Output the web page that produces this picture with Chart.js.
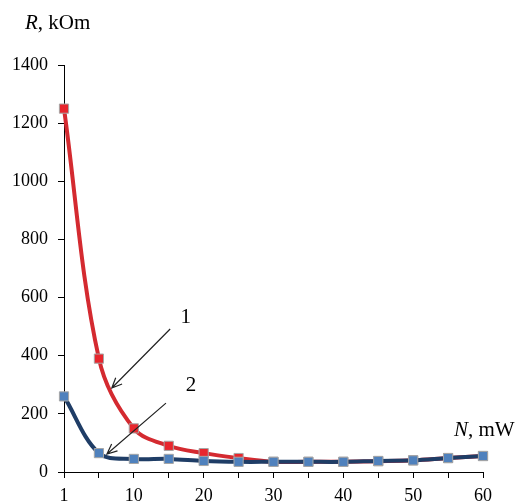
<!DOCTYPE html>
<html>
<head>
<meta charset="utf-8">
<script src="https://cdn.jsdelivr.net/npm/chart.js@4.4.1/dist/chart.umd.min.js"></script>
<style>
  html, body { margin: 0; padding: 0; background: #fff; }
  #wrap { width: 522px; height: 502px; position: relative; }
</style>
</head>
<body>
<div id="wrap"><canvas id="chart" width="522" height="502"></canvas></div>
<script>
const powers = ['1', '5', '10', '15', '20', '25', '30', '35', '40', '45', '50', '55', '60'];
const curve1 = [1250, 390, 150, 90, 65, 48, 35, 35, 35, 37, 40, 48, 55];
const curve2 = [260, 65, 45, 45, 38, 35, 35, 35, 35, 38, 40, 48, 55];
const yTicks = [0, 200, 400, 600, 800, 1000, 1200, 1400];

// callouts in data units: [category index, value]
const callouts = [
  { text: '1', label: [3.49, 533], from: [3.04, 492], to: [1.37, 289] },
  { text: '2', label: [3.64, 299], from: [2.92, 237], to: [1.23, 62] },
];

const serif = '"Liberation Serif", "Times New Roman", serif';

const textPlugin = {
  id: 'textPlugin',
  afterDraw: (chart) => {
    const { ctx, scales } = chart;
    const xs = scales.x, ys = scales.y;
    ctx.save();

    // axis titles
    ctx.fillStyle = '#000';
    ctx.textBaseline = 'alphabetic';
    ctx.textAlign = 'left';
    ctx.font = 'italic 21px ' + serif;
    ctx.fillText('R', 25, 29);
    let w = ctx.measureText('R').width;
    ctx.font = '21px ' + serif;
    ctx.fillText(', kOm', 25 + w, 29);

    ctx.font = 'italic 21px ' + serif;
    ctx.fillText('N', 454, 436);
    w = ctx.measureText('N').width;
    ctx.font = '21px ' + serif;
    ctx.fillText(', mW', 454 + w, 436);

    // callouts with arrows
    callouts.forEach(c => {
      const lx = xs.getPixelForValue(c.label[0]);
      const ly = ys.getPixelForValue(c.label[1]);
      ctx.font = '21px ' + serif;
      ctx.textAlign = 'center';
      ctx.textBaseline = 'middle';
      ctx.fillStyle = '#000';
      ctx.fillText(c.text, lx, ly);

      const x1 = xs.getPixelForValue(c.from[0]);
      const y1 = ys.getPixelForValue(c.from[1]);
      const x2 = xs.getPixelForValue(c.to[0]);
      const y2 = ys.getPixelForValue(c.to[1]);
      ctx.strokeStyle = '#222';
      ctx.lineWidth = 1.2;
      ctx.beginPath();
      ctx.moveTo(x1, y1);
      ctx.lineTo(x2, y2);
      const ang = Math.atan2(y2 - y1, x2 - x1);
      const len = 11, spread = 0.42;
      ctx.moveTo(x2 - len * Math.cos(ang - spread), y2 - len * Math.sin(ang - spread));
      ctx.lineTo(x2, y2);
      ctx.lineTo(x2 - len * Math.cos(ang + spread), y2 - len * Math.sin(ang + spread));
      ctx.stroke();
    });
    ctx.restore();
  },
};

new Chart(document.getElementById('chart').getContext('2d'), {
  type: 'line',
  data: {
    labels: powers,
    datasets: [
      {
        label: '1',
        data: curve1,
        borderColor: '#d42a30',
        borderWidth: 4,
        backgroundColor: '#e8262d',
        pointBackgroundColor: '#e8262d',
        pointBorderColor: '#a6a6a6',
        pointBorderWidth: 1,
        pointStyle: 'rect',
        pointRadius: 6.5,
        tension: 0.35,
        order: 2,
      },
      {
        label: '2',
        data: curve2,
        borderColor: '#1f3d66',
        borderWidth: 4,
        backgroundColor: '#4f81bd',
        pointBackgroundColor: '#4f81bd',
        pointBorderColor: '#a6a6a6',
        pointBorderWidth: 1,
        pointStyle: 'rect',
        pointRadius: 6.5,
        tension: 0.35,
        order: 1,
      },
    ],
  },
  options: {
    responsive: false,
    animation: false,
    events: [],
    layout: { padding: { top: 65, right: 39, bottom: 0, left: 0 } },
    plugins: {
      legend: { display: false },
      tooltip: { enabled: false },
    },
    scales: {
      x: {
        type: 'category',
        offset: false,
        border: { color: '#000', width: 1 },
        grid: { drawOnChartArea: false, color: '#000', tickLength: 6 },
        ticks: {
          autoSkip: false,
          maxRotation: 0,
          padding: 7,
          color: '#000',
          font: { family: serif, size: 18 },
          callback: (v, i) => (i % 2 === 0 ? powers[i] : ''),
        },
        afterFit: (s) => { s.height = 30; },
      },
      y: {
        min: 0,
        max: 1400,
        border: { color: '#000', width: 1 },
        grid: { drawOnChartArea: false, color: '#000', tickLength: 6 },
        afterBuildTicks: (s) => { s.ticks = yTicks.map(v => ({ value: v })); },
        ticks: {
          padding: 10,
          color: '#000',
          font: { family: serif, size: 18 },
          callback: (v) => String(v),
        },
        afterFit: (s) => { s.width = 64; },
      },
    },
  },
  plugins: [textPlugin],
});
</script>
</body>
</html>
